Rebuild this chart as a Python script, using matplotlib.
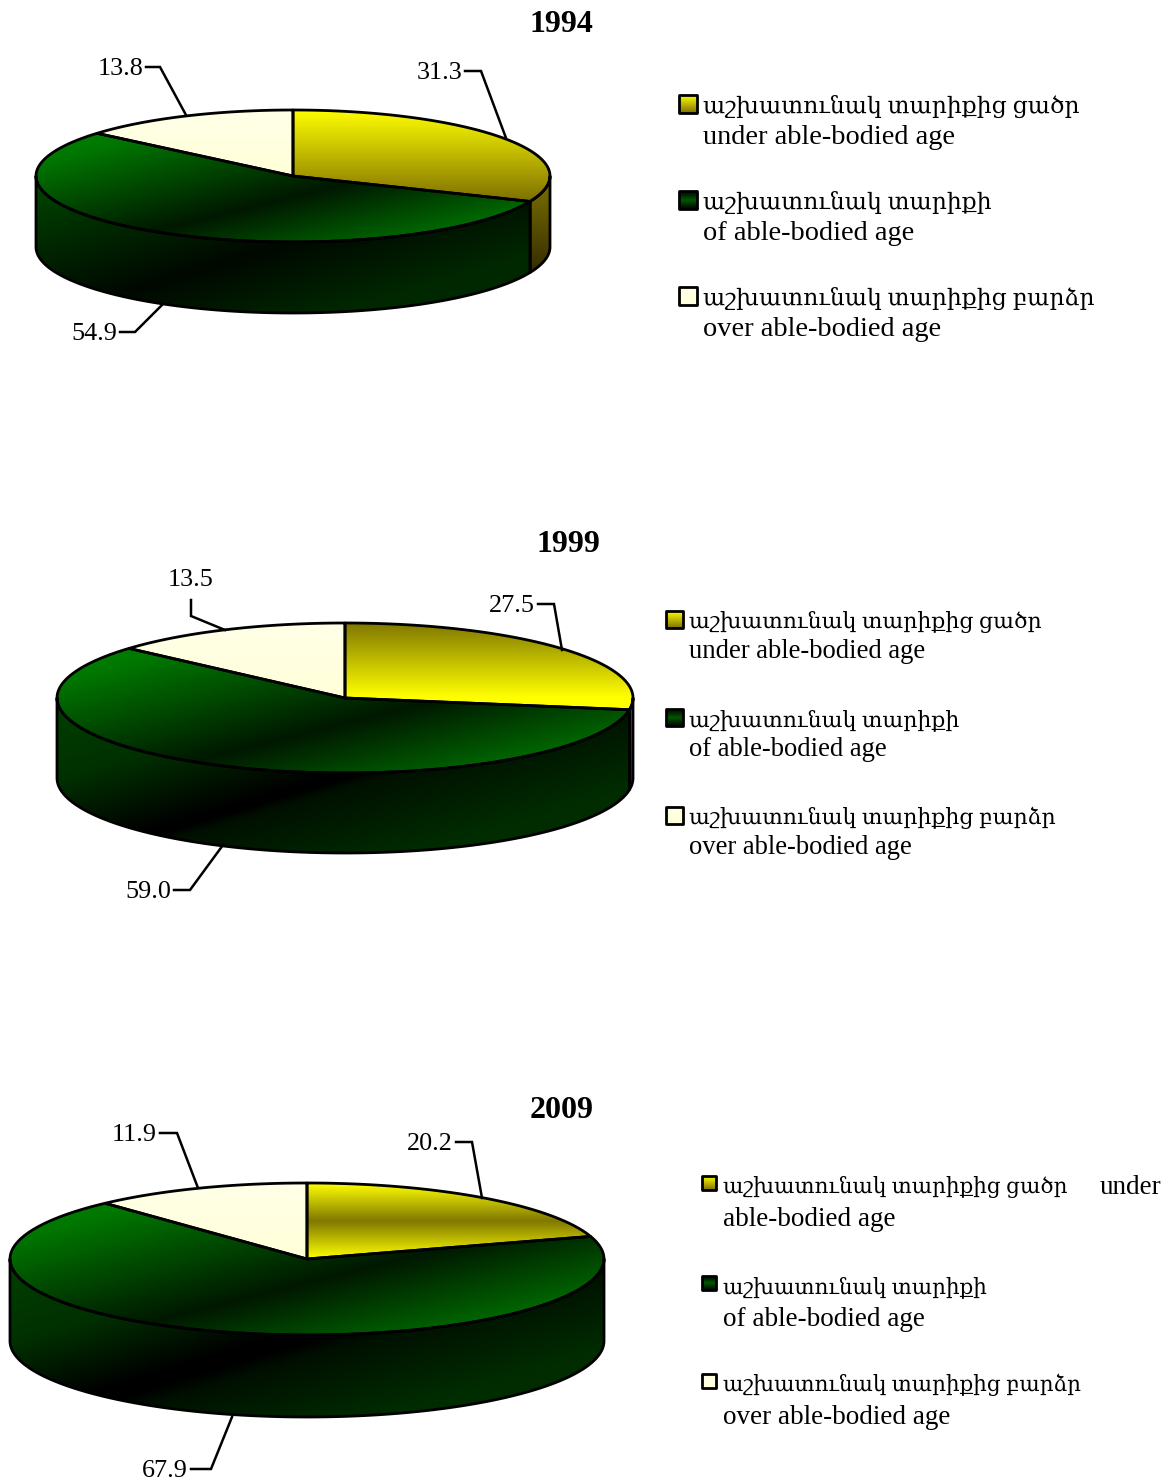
import numpy as np
import matplotlib
matplotlib.use("Agg")
import matplotlib.pyplot as plt
from matplotlib.colors import LinearSegmentedColormap
from matplotlib.path import Path
from matplotlib.patches import PathPatch

plt.rcParams['font.family'] = ['Liberation Serif', 'DejaVu Serif']

# data
years = ['1994', '1999', '2009']
under_age = [31.3, 27.5, 20.2]
working_age = [54.9, 59.0, 67.9]
over_age = [13.8, 13.5, 11.9]

legend_am = ['աշխատունակ տարիքից ցածր', 'աշխատունակ տարիքի', 'աշխատունակ տարիքից բարձր']
legend_en = ['under able-bodied age', 'of able-bodied age', 'over able-bodied age']

# layout in pixels: centre x, centre y, radius x, radius y, depth
pies = [(293, 176, 257, 66, 71), (345, 698, 288, 75, 80), (307, 1259, 297, 76, 82)]
title_pos = [(561, 24), (568, 544), (562, 1110)]
legend_x = [703, 689, 723]
legend_y = [(106, 138, 202, 234, 298, 330),
            (622, 652, 720, 750, 818, 848),
            (1187, 1219, 1287, 1319, 1385, 1417)]
legend_size = [20.4, 19.2, 19.5]
am_size = [16.9, 15.85, 15.5]
swatch = [(679, 18), (666, 17), (702, 14)]

leaders = [
    [[(465, 71), (481, 71), (506, 138)], [(120, 332), (135, 332), (162, 305)], [(146, 67), (160, 67), (186, 115)]],
    [[(538, 604), (554, 604), (562, 650)], [(174, 890), (190, 890), (223, 845)], [(191, 600), (191, 616), (225, 630)]],
    [[(456, 1142), (472, 1142), (482, 1198)], [(191, 1469), (211, 1469), (232, 1417)], [(160, 1133), (177, 1133), (198, 1188)]],
]

# colour stops of each fill
yellow_top = [
    [(0, '#ffff00'), (1, '#7f7000')],
    [(0, '#807800'), (0.85, '#ffff00'), (1, '#ffff00')],
    [(0, '#ffff00'), (0.5, '#807800'), (1, '#ffff00')],
]
yellow_side = [(0, '#7f7500'), (1, '#352c00')]
green_top = [(0, '#008000'), (0.12, '#007800'), (0.55, '#001800'), (0.85, '#006800'), (1, '#006800')]
green_side = [
    [(0, '#004800'), (0.5, '#000800'), (0.8, '#002800'), (1, '#002800')],
    [(0, '#004000'), (0.25, '#003000'), (0.49, '#000000'), (0.51, '#000000'), (0.54, '#001000'), (0.8, '#002c00'), (1, '#002c00')],
    [(0, '#004000'), (0.25, '#003000'), (0.47, '#000000'), (0.51, '#000000'), (0.56, '#001000'), (0.8, '#002c00'), (1, '#002c00')],
]
cream = [(0, '#ffffe8'), (1, '#ffffd8')]
green_swatch = [(0, '#000000'), (0.5, '#005800'), (1, '#000000')]


def ellipse(cx, cy, rx, ry, ang):
    # angle in degrees clockwise from twelve o'clock
    a = np.radians(ang)
    return np.column_stack([cx + rx * np.sin(a), cy - ry * np.cos(a)])


def fill(ax, verts, stops, slope=0.0, lw=2.0):
    # gradient image clipped by the outline, slope tilts the gradient
    verts = np.asarray(verts)
    x0, y0 = verts.min(axis=0)
    x1, y1 = verts.max(axis=0)
    xx, yy = np.meshgrid(np.linspace(x0, x1, 300), np.linspace(y0, y1, 300))
    t = slope * xx + yy
    t = (t - t.min()) / (t.max() - t.min())
    cmap = LinearSegmentedColormap.from_list('g', stops)
    im = ax.imshow(t, extent=(x0, x1, y1, y0), cmap=cmap, vmin=0, vmax=1,
                   aspect='auto', interpolation='bilinear')
    codes = [Path.MOVETO] + [Path.LINETO] * (len(verts) - 2) + [Path.CLOSEPOLY]
    patch = PathPatch(Path(verts, codes), fc='none', ec='black', lw=lw, joinstyle='round')
    ax.add_patch(patch)
    im.set_clip_path(patch)


def draw_pie(ax, i):
    cx, cy, rx, ry, depth = pies[i]
    vals = np.array([under_age[i], working_age[i], over_age[i]])
    ends = np.cumsum(vals) / vals.sum() * 360
    starts = np.r_[0, ends[:-1]]

    # visible wall is the lower half of the ellipse
    def wall(a0, a1):
        arc = ellipse(cx, cy, rx, ry, np.linspace(a0, a1, 120))
        low = arc[::-1] + [0, depth]
        return np.vstack([arc, low, arc[:1]])

    if ends[0] > 90:
        fill(ax, wall(90, ends[0]), yellow_side)
    fill(ax, wall(max(ends[0], 90), 270), green_side[i], slope=0.3)

    styles = [(yellow_top[i], 0.0), (green_top, 0.25), (cream, 0.0)]
    for a0, a1, (stops, slope) in zip(starts, ends, styles):
        arc = ellipse(cx, cy, rx, ry, np.linspace(a0, a1, 200))
        verts = np.vstack([[cx, cy], arc, [cx, cy]])
        fill(ax, verts, stops, slope=slope)

    # labels with leader lines
    for v, pts in zip(vals, leaders[i]):
        xs, ys = zip(*pts)
        ax.plot(xs, ys, color='black', lw=1.8, solid_joinstyle='miter')
        if xs[0] == xs[1]:
            ax.text(xs[0], ys[0] - 20, f'{v:.1f}', ha='center', va='center', fontsize=18.8)
        else:
            ax.text(xs[0] - 3, ys[0] + 2, f'{v:.1f}', ha='right', va='center', fontsize=18.8)

    tx, ty = title_pos[i]
    ax.text(tx, ty, years[i], ha='center', va='center', fontsize=23, fontweight='bold')


def draw_legend(ax, i):
    sx, size = swatch[i]
    stops = [yellow_top[0], green_swatch, cream]
    for k in range(3):
        y1 = legend_y[i][2 * k]
        y2 = legend_y[i][2 * k + 1]
        top = y1 - 11
        box = [(sx, top), (sx + size, top), (sx + size, top + size), (sx, top + size), (sx, top)]
        fill(ax, box, stops[k], lw=2.0)
        ax.text(legend_x[i], y1, legend_am[k], va='center', fontsize=am_size[i])
        line2 = legend_en[k]
        if i == 2 and k == 0:
            # here the word "under" sits at the end of the first line
            ax.text(1100, y1, 'under', va='center', fontsize=legend_size[i])
            line2 = 'able-bodied age'
        ax.text(legend_x[i], y2, line2, va='center', fontsize=legend_size[i])


fig = plt.figure(figsize=(11.72, 14.83), dpi=100)
ax = fig.add_axes([0, 0, 1, 1])

for i in range(3):
    draw_pie(ax, i)
    draw_legend(ax, i)

ax.set_xlim(0, 1172)
ax.set_ylim(1483, 0)
ax.axis('off')
fig.savefig('out.png', dpi=100)
